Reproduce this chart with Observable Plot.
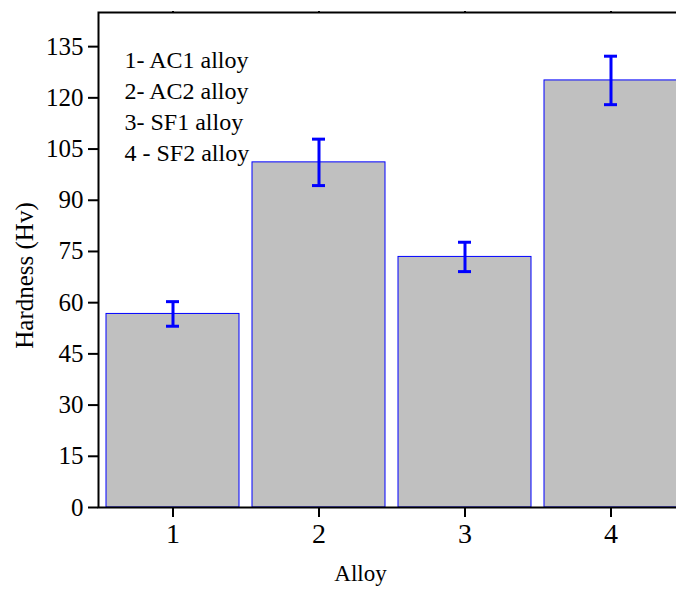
<!DOCTYPE html>
<html>
<head>
<meta charset="utf-8">
<script src="https://cdn.jsdelivr.net/npm/d3@7"></script>
<script src="https://cdn.jsdelivr.net/npm/@observablehq/plot@0.6"></script>
<style>
  html, body { margin: 0; padding: 0; overflow: hidden; background: #fff; width: 676px; height: 590px; }
  #chart { width: 700px; }
  #chart svg { max-width: none !important; display: block; }
  #chart svg, #chart svg text { font-family: "Liberation Serif", "Times New Roman", serif !important; }
</style>
</head>
<body>
<div id="chart"></div>
<script>
const alloys = ["1", "2", "3", "4"];
const hardness = [56.7, 101.1, 73.4, 125.1];
const errors = [3.6, 6.8, 4.3, 7.1];
const yTicks = [0, 15, 30, 45, 60, 75, 90, 105, 120, 135];
const legendLines = ["1- AC1 alloy", "2- AC2 alloy", "3- SF1 alloy", "4 - SF2 alloy"];
const xLabel = "Alloy";
const yLabel = "Hardness (Hv)";

const data = alloys.map((a, i) => ({alloy: a, h: hardness[i], e: errors[i]}));

const chart = Plot.plot({
  width: 700,
  height: 590,
  marginLeft: 98,
  marginRight: 15,
  marginTop: 12,
  marginBottom: 83,
  style: {fontFamily: "'Liberation Serif', 'Times New Roman', serif", background: "#fff", color: "#000", maxWidth: "none"},
  x: {type: "band", domain: alloys, paddingInner: 0.09, paddingOuter: 0.045, label: null},
  y: {domain: [0, 145], label: null},
  marks: [
    Plot.barY(data, {x: "alloy", y: "h", fill: "#c0c0c0", stroke: "#0000ff", strokeWidth: 1}),
    Plot.ruleX(data, {x: "alloy", y1: d => d.h - d.e, y2: d => d.h + d.e, stroke: "#0000ff", strokeWidth: 3}),
    Plot.tickY(data, {x: "alloy", y: d => d.h - d.e, stroke: "#0000ff", strokeWidth: 3, insetLeft: 60, insetRight: 60}),
    Plot.tickY(data, {x: "alloy", y: d => d.h + d.e, stroke: "#0000ff", strokeWidth: 3, insetLeft: 60, insetRight: 60}),
    Plot.frame({stroke: "#000", strokeWidth: 2}),
    Plot.axisY({ticks: yTicks, tickSize: 10, tickPadding: 5, fontSize: 25, label: null, strokeWidth: 2}),
    Plot.axisX({tickSize: 10, tickPadding: 6, fontSize: 28, label: null, strokeWidth: 2}),
    Plot.axisX({anchor: "top", tickSize: 2, tickFormat: null, label: null, strokeWidth: 2}),
    Plot.text([legendLines.join("\n")], {frameAnchor: "top-left", dx: 26, dy: 33, lineAnchor: "top", textAnchor: "start", lineHeight: 1.3, fontSize: 24}),
    Plot.text([yLabel], {frameAnchor: "left", rotate: -90, dx: -74, dy: 15.5, fontSize: 25, textAnchor: "middle", lineAnchor: "middle"}),
    Plot.text([xLabel], {frameAnchor: "bottom", dx: -31.5, dy: 66, fontSize: 23, textAnchor: "middle", lineAnchor: "middle"})
  ]
});
document.getElementById("chart").appendChild(chart);
</script>
</body>
</html>
